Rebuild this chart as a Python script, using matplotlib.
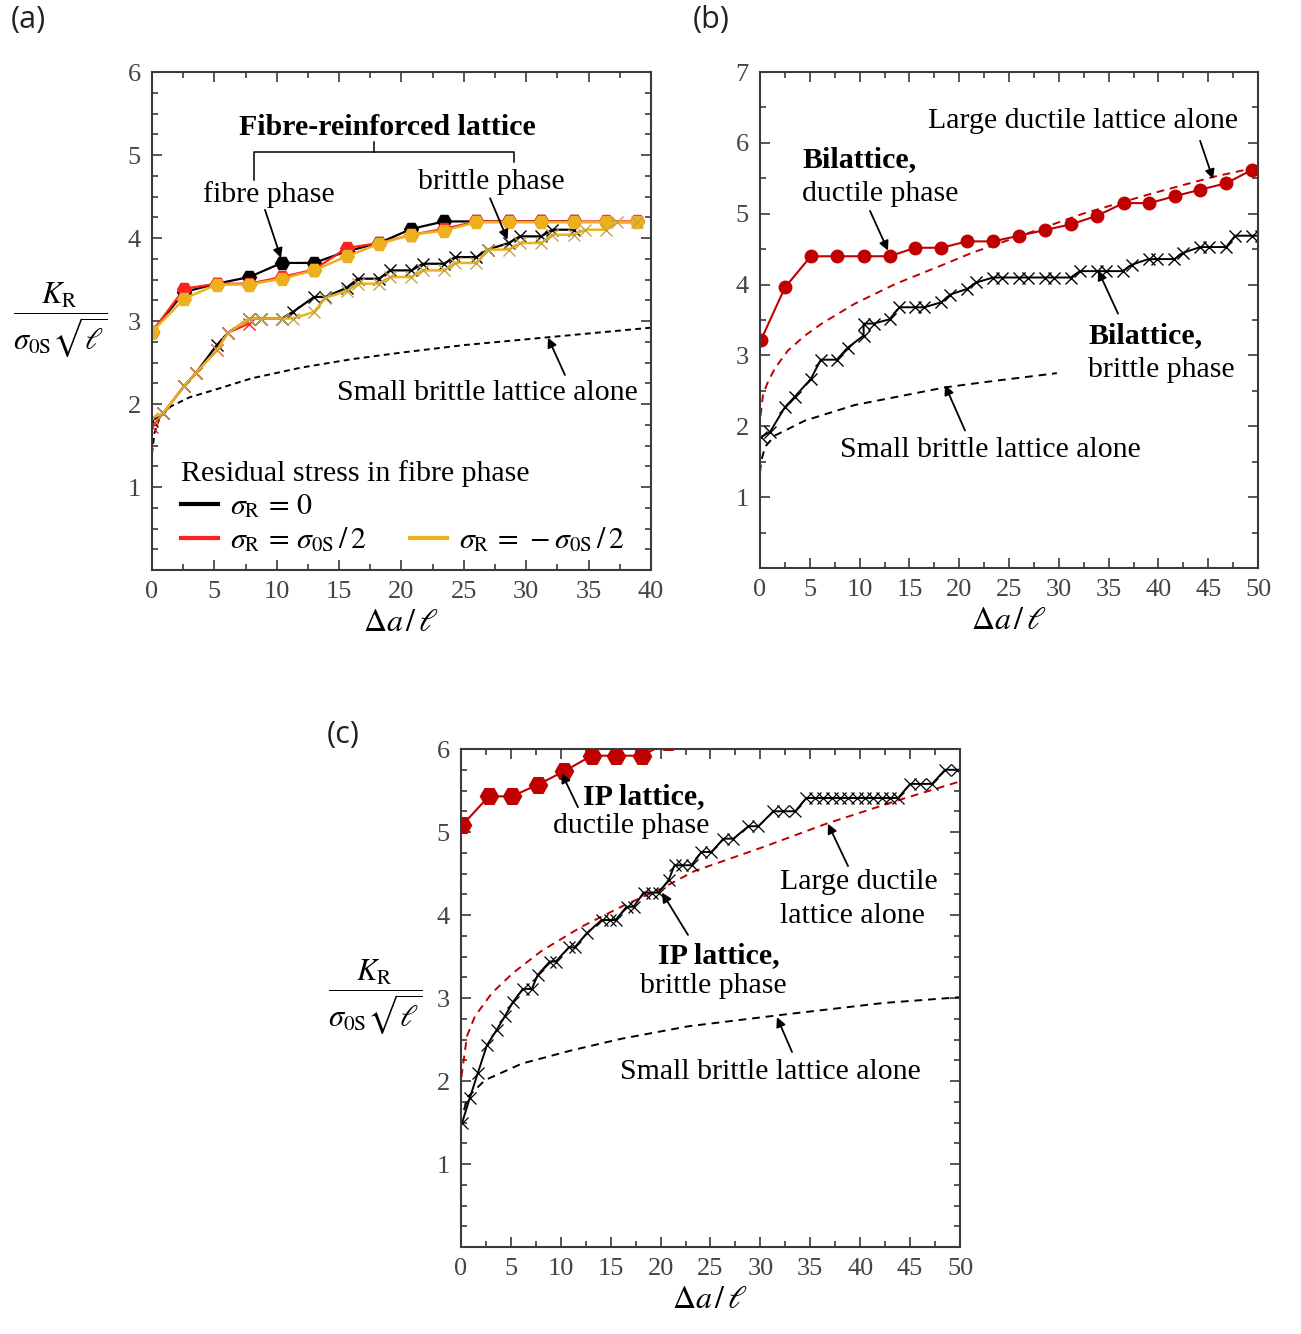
"""
Crack growth resistance curves K_R vs. crack extension for three lattice designs.
"""

import matplotlib.pyplot as plt
from matplotlib.lines import Line2D
from matplotlib.ticker import MultipleLocator

plt.rcParams["font.family"] = ["Liberation Serif", "DejaVu Serif"]
plt.rcParams["mathtext.fontset"] = "stix"

BLACK = "black"
RED_A = "#ff2020"
GOLD = "#edb120"
GOLD_X = "#c4a445"
DRED = "#c00000"
AXC = "#3a3a3a"

# ---- panel (a): fibre-reinforced lattice ----
fib_x = [0, 2.6, 5.2, 7.8, 10.4, 13.0, 15.6, 18.2, 20.8, 23.4, 26.0, 28.6, 31.2, 33.8, 36.4, 38.9]
fib_black = [2.87, 3.35, 3.45, 3.53, 3.70, 3.70, 3.84, 3.94, 4.11, 4.20, 4.20, 4.20, 4.20, 4.20]
fib_red = [2.87, 3.39, 3.45, 3.45, 3.53, 3.62, 3.88, 3.94, 4.04, 4.11, 4.20, 4.20, 4.20, 4.20, 4.20, 4.20]
fib_gold = [2.87, 3.27, 3.44, 3.44, 3.51, 3.61, 3.78, 3.93, 4.04, 4.09, 4.19, 4.19, 4.19, 4.19, 4.19, 4.19]

br_x = [0, 0.9, 2.6, 3.5, 5.2, 6.1, 7.8, 8.7, 10.4, 11.3, 13.0, 13.9, 15.6, 16.5, 18.2, 19.1,
        20.8, 21.7, 23.4, 24.3, 26.0, 26.9, 28.6, 29.5, 31.2, 32.1, 33.8, 34.7, 36.4, 37.3, 38.9]
br_black = [1.80, 1.89, 2.22, 2.37, 2.71, 2.86, 3.03, 3.03, 3.03, 3.11, 3.29, 3.29, 3.40, 3.51,
            3.51, 3.61, 3.61, 3.69, 3.69, 3.77, 3.77, 3.86, 3.94, 4.02, 4.02, 4.10, 4.10]
br_red = [1.72, 1.89, 2.22, 2.37, 2.65, 2.86, 2.97]
br_gold = [1.83, 1.89, 2.22, 2.37, 2.65, 2.86, 3.03, 3.03, 3.03, 3.03, 3.11, 3.28, 3.36, 3.45,
           3.45, 3.53, 3.53, 3.61, 3.61, 3.70, 3.70, 3.86, 3.86, 3.94, 3.94, 4.04, 4.04, 4.10,
           4.10, 4.19, 4.19]

sb_a_x = [0, 0.2, 0.6, 1.5, 3, 5, 8, 12, 16, 20, 25, 30, 35, 40]
sb_a_y = [1.4, 1.65, 1.83, 1.97, 2.08, 2.17, 2.31, 2.44, 2.54, 2.62, 2.71, 2.78, 2.85, 2.92]

# ---- panel (b): bilattice ----
bd_x = [0.1, 2.5, 5.1, 7.7, 10.4, 13.0, 15.6, 18.2, 20.8, 23.4, 26.0, 28.6, 31.2, 33.8, 36.5,
        39.1, 41.7, 44.2, 46.8, 49.4]
bd_y = [3.22, 3.96, 4.40, 4.40, 4.40, 4.40, 4.52, 4.52, 4.61, 4.61, 4.69, 4.77, 4.85, 4.97, 5.15,
        5.15, 5.25, 5.34, 5.43, 5.62]

bb_x = [0.1, 1.0, 2.5, 3.5, 5.1, 6.1, 7.7, 8.8, 10.4, 10.4, 11.4, 13.0, 14.0, 15.6, 16.5, 18.2,
        19.1, 20.8, 21.7, 23.4, 24.3, 26.0, 26.9, 28.6, 29.5, 31.2, 32.1, 33.8, 34.7, 36.4, 37.3,
        39.0, 39.9, 41.6, 42.5, 44.2, 45.1, 46.8, 47.7, 49.4, 50.3]
bb_y = [1.85, 1.92, 2.27, 2.42, 2.67, 2.94, 2.94, 3.11, 3.28, 3.45, 3.45, 3.51, 3.68, 3.68, 3.68,
        3.75, 3.86, 3.94, 4.03, 4.10, 4.10, 4.10, 4.10, 4.10, 4.10, 4.10, 4.19, 4.19, 4.19, 4.19,
        4.28, 4.36, 4.36, 4.36, 4.45, 4.53, 4.53, 4.53, 4.69, 4.69, 4.69]

ld_b_x = [0.05, 0.3, 0.8, 1.5, 2.8, 4.5, 6.2, 9.5, 13.6, 18.2, 21.3, 26, 32.4, 39.2, 45.5, 50]
ld_b_y = [2.15, 2.45, 2.63, 2.82, 3.07, 3.28, 3.45, 3.73, 4.01, 4.27, 4.45, 4.68, 5.0, 5.28, 5.52, 5.66]

sb_b_x = [0, 0.1, 0.5, 1.5, 4.5, 9.5, 14.6, 18.6, 22.9, 29.8]
sb_b_y = [1.35, 1.5, 1.71, 1.87, 2.08, 2.30, 2.44, 2.55, 2.63, 2.75]

# ---- panel (c): IP lattice ----
ipd_x = [0.1, 2.8, 5.1, 7.7, 10.3, 13.1, 15.5, 18.1, 20.7]
ipd_y = [5.08, 5.43, 5.43, 5.57, 5.73, 5.92, 5.92, 5.92, 6.08]

ipb_x = [0.1, 0.9, 1.7, 2.6, 3.6, 4.4, 5.2, 6.2, 7.1, 7.7, 8.9, 9.5, 10.8, 11.4, 12.6, 14.1, 14.9,
         15.5, 16.6, 17.3, 18.3, 19.1, 19.8, 20.8, 21.4, 22.1, 23.1, 24.1, 25.1, 26.3, 27.3, 28.8,
         29.8, 31.3, 32.3, 33.5, 34.6, 35.5, 36.3, 37.2, 38.0, 38.8, 39.7, 40.5, 41.3, 42.2, 43.0,
         43.8, 45.0, 46.0, 47.2, 48.5, 49.7]
ipb_y = [1.49, 1.80, 2.10, 2.43, 2.62, 2.78, 2.95, 3.11, 3.11, 3.28, 3.44, 3.44, 3.61, 3.61, 3.78,
         3.94, 3.94, 3.94, 4.10, 4.10, 4.27, 4.27, 4.27, 4.42, 4.60, 4.60, 4.60, 4.76, 4.76, 4.92,
         4.92, 5.07, 5.07, 5.25, 5.25, 5.25, 5.41, 5.41, 5.41, 5.41, 5.41, 5.41, 5.41, 5.41, 5.41,
         5.41, 5.41, 5.41, 5.58, 5.58, 5.58, 5.75, 5.75]

ld_c_x = [0.05, 0.6, 1.4, 3.1, 5.2, 8.1, 12.1, 16.4, 20.1, 23.4, 30.3, 36.6, 44.0, 50]
ld_c_y = [2.05, 2.54, 2.78, 3.06, 3.30, 3.57, 3.86, 4.12, 4.32, 4.53, 4.82, 5.10, 5.39, 5.61]

sb_c_x = [0.3, 0.7, 2.4, 6.1, 11.1, 16.1, 22.8, 32.3, 42.3, 50]
sb_c_y = [1.65, 1.81, 2.01, 2.21, 2.37, 2.51, 2.66, 2.80, 2.94, 3.01]

TXT = 21.5
TICK = 19


def style_axes(ax, xmax, ymax, ymajor_labels, yminor, xminor=2.5):
    ax.set_xlim(0, xmax)
    ax.set_ylim(0, ymax)
    ax.set_xticks(range(0, xmax + 1, 5))
    ax.set_yticks(ymajor_labels)
    ax.xaxis.set_minor_locator(MultipleLocator(xminor))
    ax.yaxis.set_minor_locator(MultipleLocator(yminor))
    ax.tick_params(which="both", direction="in", top=True, right=True,
                   colors=AXC, labelcolor="#444444", labelsize=TICK, width=1.2)
    ax.tick_params(which="major", length=7)
    ax.tick_params(which="minor", length=4.5)
    ax.tick_params(axis="x", pad=8)
    ax.tick_params(axis="y", pad=8)
    for s in ax.spines.values():
        s.set_color(AXC)
        s.set_linewidth(1.5)
    ax.set_xlabel(r"$\Delta a\,/\,\ell$", fontsize=23, labelpad=4)


def arrow(ax, tip, tail):
    ax.annotate("", xy=tip, xytext=tail,
                arrowprops=dict(arrowstyle="-|>", color="black", lw=1.3,
                                mutation_scale=14, shrinkA=0, shrinkB=0))


fig = plt.figure(figsize=(13.01, 13.34), dpi=100)
ax_a = fig.add_axes([0.1168, 0.5727, 0.3836, 0.3733])
ax_b = fig.add_axes([0.5842, 0.5742, 0.3828, 0.3718])
ax_c = fig.add_axes([0.3543, 0.0652, 0.3836, 0.3733])

# ---------------- (a) ----------------
ax = ax_a
ax.plot(sb_a_x, sb_a_y, color="black", lw=1.4, ls=(0, (3, 2.2)))
ax.plot(fib_x[:len(fib_black)], fib_black, color=BLACK, lw=1.6, marker="H", ms=10)
ax.plot(br_x[:len(br_black)], br_black, color=BLACK, lw=1.6, marker="x", ms=9, mew=1.0)
ax.plot(fib_x, fib_red, color=RED_A, lw=1.6, marker="H", ms=10)
ax.plot(br_x[:len(br_red)], br_red, color=RED_A, lw=1.6, marker="x", ms=9, mew=1.0)
ax.plot(fib_x, fib_gold, color=GOLD, lw=1.8, marker="H", ms=10)
ax.plot(br_x, br_gold, color=GOLD, lw=1.8, marker="x", ms=9, mew=1.0, mec=GOLD_X)
style_axes(ax, 40, 6, [1, 2, 3, 4, 5, 6], 0.25)

ax.text(18.84, 5.33, "Fibre-reinforced lattice", fontsize=TXT, fontweight="bold",
        ha="center", va="center")
ax.plot([8.18, 8.18, 29.04, 29.04], [4.70, 5.04, 5.04, 4.92], color="black", lw=1.1)
ax.plot([17.82, 17.82], [5.04, 5.16], color="black", lw=1.1)
ax.text(9.4, 4.52, "fibre phase", fontsize=TXT, ha="center", va="center")
arrow(ax, (10.34, 3.76), (9.06, 4.34))
ax.text(27.2, 4.67, "brittle phase", fontsize=TXT, ha="center", va="center")
arrow(ax, (28.5, 3.98), (27.1, 4.48))
ax.text(26.85, 2.13, "Small brittle lattice alone", fontsize=TXT, ha="center", va="center")
arrow(ax, (31.74, 2.80), (33.1, 2.35))

handles = [Line2D([], [], color=BLACK, lw=3),
           Line2D([], [], color=RED_A, lw=3),
           Line2D([], [], color="none"),
           Line2D([], [], color=GOLD, lw=3)]
labels = [r"$\sigma_\mathrm{R}\,=\,0$", r"$\sigma_\mathrm{R}\,=\,\sigma_\mathrm{0S}\,/\,2$", " ",
          r"$\sigma_\mathrm{R}\,=\,-\sigma_\mathrm{0S}\,/\,2$"]
leg = ax.legend(handles, labels, ncol=2, loc="lower left", bbox_to_anchor=(0.04, 0.014),
                frameon=False, fontsize=TXT, title="Residual stress in fibre phase",
                title_fontsize=TXT, alignment="left", handlelength=1.25, handletextpad=0.4,
                columnspacing=1.45, labelspacing=0.17, borderpad=0.1, borderaxespad=0.2)

# ---------------- (b) ----------------
ax = ax_b
ax.plot(sb_b_x, sb_b_y, color="black", lw=1.4, ls=(0, (4, 3)))
ax.plot(ld_b_x, ld_b_y, color=DRED, lw=1.4, ls=(0, (4, 3)))
ax.plot(bb_x, bb_y, color="black", lw=1.4, marker="x", ms=9, mew=1.0)
ax.plot(bd_x, bd_y, color=DRED, lw=1.5, marker="o", ms=9)
style_axes(ax, 50, 7, [1, 2, 3, 4, 5, 6, 7], 0.5)

ax.text(32.43, 6.31, "Large ductile lattice alone", fontsize=TXT, ha="center", va="center")
arrow(ax, (45.48, 5.49), (44.18, 6.03))
ax.text(4.22, 5.77, "Bilattice,", fontsize=TXT, fontweight="bold", ha="left", va="center")
ax.text(4.22, 5.28, "ductile phase", fontsize=TXT, ha="left", va="center")
arrow(ax, (12.85, 4.48), (11.04, 5.04))
ax.text(32.93, 3.28, "Bilattice,", fontsize=TXT, fontweight="bold", ha="left", va="center")
ax.text(32.93, 2.79, "brittle phase", fontsize=TXT, ha="left", va="center")
arrow(ax, (33.94, 4.20), (35.94, 3.59))
ax.text(23.09, 1.66, "Small brittle lattice alone", fontsize=TXT, ha="center", va="center")
arrow(ax, (18.57, 2.58), (20.58, 1.94))

# ---------------- (c) ----------------
ax = ax_c
ax.plot(sb_c_x, sb_c_y, color="black", lw=1.4, ls=(0, (4, 3)))
ax.plot(ld_c_x, ld_c_y, color=DRED, lw=1.4, ls=(0, (4, 3)))
ax.plot(ipb_x, ipb_y, color="black", lw=1.4, marker="x", ms=8, mew=0.9)
ax.plot(ipd_x, ipd_y, color=DRED, lw=1.5, marker="H", ms=13)
style_axes(ax, 50, 6, [1, 2, 3, 4, 5, 6], 0.25)

ax.text(12.22, 5.43, "IP lattice,", fontsize=TXT, fontweight="bold", ha="left", va="center")
ax.text(9.22, 5.07, "ductile phase", fontsize=TXT, ha="left", va="center")
arrow(ax, (10.09, 5.71), (11.72, 5.30))
ax.text(31.96, 4.40, "Large ductile", fontsize=TXT, ha="left", va="center")
ax.text(31.96, 3.99, "lattice alone", fontsize=TXT, ha="left", va="center")
arrow(ax, (36.77, 5.10), (38.78, 4.59))
ax.text(19.74, 3.51, "IP lattice,", fontsize=TXT, fontweight="bold", ha="left", va="center")
ax.text(17.94, 3.14, "brittle phase", fontsize=TXT, ha="left", va="center")
arrow(ax, (20.14, 4.27), (22.75, 3.76))
ax.text(30.96, 2.11, "Small brittle lattice alone", fontsize=TXT, ha="center", va="center")
arrow(ax, (31.66, 2.77), (33.17, 2.35))

# y labels and panel letters
ylab = r"$\dfrac{K_\mathrm{R}}{\sigma_\mathrm{0S}\sqrt{\ell}}$"
fig.text(60 / 1301, 1 - 320 / 1334, ylab, fontsize=22, ha="center", va="center")
fig.text(375 / 1301, 1 - 997 / 1334, ylab, fontsize=22, ha="center", va="center")
for lab, px, py in [("(a)", 28, 20), ("(b)", 711, 20), ("(c)", 343, 735)]:
    fig.text(px / 1301, 1 - py / 1334, lab, fontsize=22, ha="center", va="center",
             family=["Open Sans", "DejaVu Sans"], color="#222222")

fig.savefig("out.png", dpi=100)
